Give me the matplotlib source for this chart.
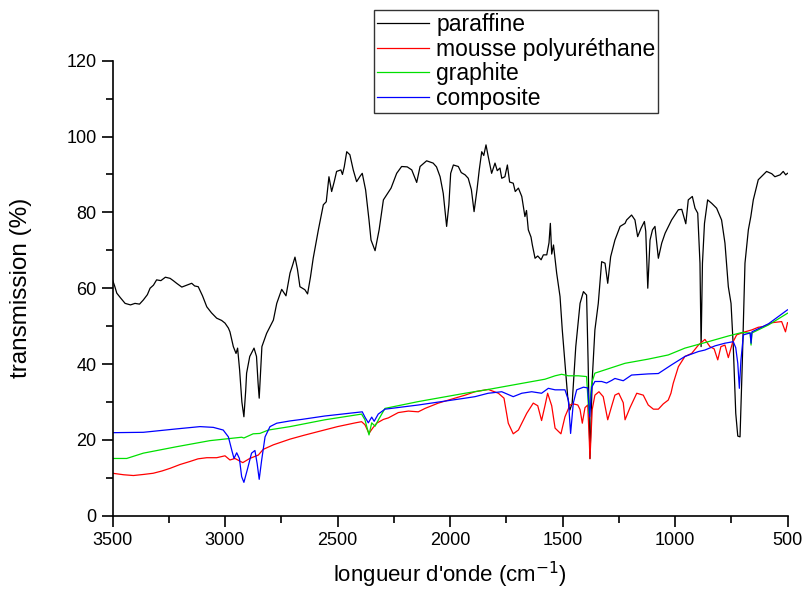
import matplotlib
matplotlib.use("Agg")
import matplotlib.pyplot as plt
from matplotlib.ticker import MultipleLocator

plt.rcParams['font.family'] = ['Liberation Sans', 'DejaVu Sans']

paraffine_wn = [3500, 3490, 3481, 3465, 3444, 3420, 3400, 3380, 3363, 3345, 3333, 3318, 3304, 3285,
                3265, 3244, 3230, 3215, 3192, 3170, 3148, 3135, 3119, 3100, 3081, 3060, 3037, 3015,
                3000, 2985, 2978, 2963, 2951, 2944, 2935, 2925, 2916, 2908, 2904, 2890, 2871, 2860,
                2853, 2848, 2842, 2836, 2815, 2785, 2770, 2748, 2729, 2711, 2700, 2689, 2678, 2667,
                2645, 2633, 2620, 2608, 2585, 2563, 2550, 2538, 2526, 2515, 2504, 2485, 2478, 2470,
                2459, 2445, 2430, 2415, 2400, 2390, 2375, 2360, 2351, 2333, 2315, 2296, 2262, 2237,
                2215, 2190, 2170, 2148, 2133, 2104, 2075, 2060, 2044, 2030, 2015, 2005, 1997, 1985,
                1963, 1950, 1933, 1919, 1905, 1893, 1880, 1870, 1859, 1850, 1840, 1830, 1815, 1800,
                1790, 1778, 1770, 1756, 1745, 1735, 1719, 1710, 1696, 1681, 1667, 1660, 1652, 1640,
                1634, 1622, 1610, 1595, 1585, 1570, 1560, 1554, 1548, 1540, 1526, 1511, 1501, 1489,
                1477, 1467, 1457, 1441, 1422, 1407, 1393, 1386, 1378, 1368, 1356, 1341, 1326, 1311,
                1299, 1286, 1267, 1244, 1222, 1215, 1193, 1178, 1166, 1151, 1136, 1130, 1121, 1111,
                1100, 1089, 1074, 1059, 1044, 1015, 985, 970, 952, 941, 923, 911, 899, 889, 884, 878,
                869, 855, 837, 815, 793, 778, 763, 751, 741, 730, 721, 711, 701, 689, 674, 663, 652,
                630, 593, 570, 556, 533, 519, 508, 500]
paraffine_t = [62.2, 60.5, 58.7, 57.5, 56.0, 55.6, 56.0, 55.8, 56.9, 58.3, 60.0, 60.8, 62.2, 62.0,
               62.9, 62.6, 62.0, 61.3, 60.3, 60.8, 61.3, 60.6, 60.4, 58.0, 55.1, 53.5, 52.1, 51.5,
               50.8, 49.5, 48.5, 44.6, 42.8, 44.2, 38.4, 30.0, 26.1, 33.0, 37.6, 42.0, 44.2, 42.0,
               35.0, 31.0, 38.0, 44.6, 48.1, 51.6, 56.0, 59.7, 58.0, 64.0, 66.0, 68.2, 65.0, 60.4,
               59.6, 58.5, 63.0, 67.9, 75.4, 82.0, 82.8, 89.4, 85.5, 88.0, 90.8, 91.2, 90.0, 92.0,
               96.0, 95.2, 91.2, 88.1, 89.5, 90.3, 85.9, 78.0, 72.7, 69.9, 75.4, 83.3, 86.4, 90.3,
               92.1, 92.0, 91.2, 87.9, 92.1, 93.6, 93.0, 92.0, 89.4, 85.0, 76.3, 82.0, 90.3, 92.5,
               92.1, 90.5, 89.9, 89.0, 86.0, 80.2, 86.0, 91.2, 96.0, 95.0, 97.8, 94.7, 90.3, 93.0,
               91.0, 91.7, 89.0, 89.4, 92.5, 88.0, 87.7, 85.5, 86.4, 84.2, 78.9, 80.5, 75.4, 73.5,
               71.4, 67.9, 68.5, 67.5, 68.8, 68.8, 72.0, 77.1, 69.0, 71.4, 64.0, 57.8, 49.0, 40.2,
               31.4, 27.9, 29.7, 44.6, 56.0, 59.1, 58.2, 40.2, 15.1, 35.8, 49.0, 56.0, 67.0, 66.6,
               61.3, 68.3, 72.7, 76.3, 77.1, 78.0, 79.3, 78.0, 73.6, 75.8, 77.6, 75.0, 60.0, 72.7,
               75.4, 76.3, 67.9, 71.9, 74.5, 78.0, 80.7, 80.8, 77.0, 83.3, 84.2, 81.1, 79.8, 66.6, 44.6, 66.6,
               77.1, 83.3, 82.4, 81.1, 78.0, 71.9, 60.4, 56.0, 44.6, 27.0, 21.0, 20.8, 40.2, 66.6, 75.4, 78.9, 83.3,
               88.6, 90.8, 90.2, 89.4, 89.9, 90.8, 89.9, 90.3]

mousse_wn = [3500, 3450, 3407, 3360, 3319, 3280, 3244, 3200, 3156, 3120, 3081, 3037, 3000, 2978,
             2956, 2940, 2921, 2890, 2852, 2830, 2785, 2711, 2650, 2585, 2500, 2420, 2393, 2378,
             2360, 2345, 2326, 2296, 2274, 2230, 2185, 2141, 2111, 2052, 1933, 1889, 1830, 1785,
             1760, 1741, 1719, 1696, 1659, 1630, 1610, 1593, 1578, 1566, 1548, 1533, 1507, 1489,
             1467, 1452, 1432, 1422, 1412, 1400, 1388, 1381, 1378, 1368, 1356, 1338, 1319, 1299,
             1281, 1267, 1250, 1230, 1222, 1200, 1170, 1141, 1119, 1096, 1074, 1052, 1030, 1018,
             1008, 985, 956, 926, 896, 867, 845, 826, 810, 796, 778, 763, 745, 726, 689, 659, 630,
             607, 570, 526, 509, 500]
mousse_t = [11.2, 10.8, 10.6, 10.9, 11.2, 11.8, 12.5, 13.5, 14.3, 15.0, 15.3, 15.3, 15.8, 14.7,
            15.1, 14.6, 14.0, 15.1, 16.0, 17.5, 18.7, 20.2, 21.2, 22.2, 23.5, 24.5, 24.8, 24.0,
            21.7, 23.0, 24.4, 25.4, 25.8, 27.2, 27.6, 27.4, 28.3, 29.7, 31.8, 32.7, 33.3, 32.3,
            31.0, 24.4, 21.6, 22.6, 27.0, 29.7, 29.0, 25.1, 29.0, 32.3, 29.0, 23.1, 21.6, 26.1,
            29.2, 29.5, 29.2, 28.0, 24.4, 28.5, 29.2, 20.0, 15.0, 28.0, 31.8, 32.7, 31.4, 25.3,
            29.0, 31.8, 32.3, 29.8, 25.3, 28.5, 32.3, 31.8, 29.2, 28.1, 28.1, 29.5, 30.5, 32.3,
            34.9, 39.3, 42.0, 42.8, 45.0, 46.5, 44.6, 44.0, 41.1, 44.6, 45.0, 41.7, 45.5, 47.7, 48.5, 49.0, 49.7,
            49.9, 50.9, 51.2, 48.5, 50.9]

graphite_wn = [3500, 3437, 3363, 3215, 3067, 2926, 2916, 2875, 2845, 2807, 2711, 2556, 2393, 2378,
               2360, 2348, 2333, 2318, 2289, 2141, 1933, 1830, 1681, 1578, 1533, 1504, 1474, 1430,
               1393, 1383, 1370, 1356, 1222, 1119, 1030, 956, 852, 763, 704, 666, 662, 658, 585, 500]
graphite_t = [15.1, 15.1, 16.5, 18.2, 19.8, 20.7, 20.5, 21.6, 21.7, 22.6, 23.5, 25.3, 26.8, 25.3,
              21.3, 24.5, 23.6, 25.3, 28.3, 30.1, 32.3, 33.3, 34.9, 36.0, 36.9, 37.3, 36.9, 36.9,
              36.7, 27.0, 35.0, 37.6, 40.2, 41.3, 42.4, 44.2, 45.9, 47.4, 48.3, 48.2, 45.0, 48.2, 50.3, 53.4]

composite_wn = [3500, 3363, 3215, 3111, 3052, 3008, 2985, 2970, 2960, 2948, 2936, 2926, 2916, 2901,
                2882, 2867, 2857, 2848, 2837, 2822, 2800, 2770, 2711, 2659, 2556, 2390, 2378, 2363,
                2348, 2337, 2319, 2289, 2141, 1933, 1889, 1830, 1770, 1719, 1681, 1637, 1593, 1563,
                1533, 1489, 1474, 1464, 1452, 1437, 1407, 1388, 1379, 1370, 1356, 1326, 1304, 1281,
                1267, 1230, 1193, 1119, 1074, 1015, 956, 896, 867, 822, 778, 741, 730, 721, 714, 707,
                696, 666, 662, 658, 585, 500]
composite_t = [21.9, 22.0, 22.9, 23.5, 23.3, 22.6, 20.8, 17.3, 15.1, 16.6, 15.1, 10.3, 8.8, 12.1,
               16.5, 17.2, 13.7, 9.6, 14.7, 20.8, 23.5, 24.4, 25.0, 25.4, 26.3, 27.4, 26.0, 24.5,
               26.0, 24.9, 26.8, 28.1, 29.2, 31.0, 31.4, 32.3, 32.7, 31.4, 32.3, 32.7, 32.3, 33.6,
               33.2, 33.2, 30.5, 21.7, 29.7, 33.2, 33.9, 33.7, 26.1, 33.9, 35.4, 35.4, 35.0, 35.7,
               36.2, 35.6, 37.1, 37.4, 37.5, 39.8, 42.0, 43.3, 43.7, 44.8, 45.5, 45.9, 44.3, 40.2, 33.6, 41.0,
               47.7, 48.2, 45.5, 48.5, 50.6, 54.3]

labels = ['paraffine', 'mousse polyuréthane', 'graphite', 'composite']
colors = ['#000000', '#FF0000', '#00E000', '#0000FF']

fig = plt.figure(figsize=(8.03, 5.9), dpi=100)
ax = fig.add_axes([0.1401, 0.1259, 0.8406, 0.7712])

series = [(paraffine_wn, paraffine_t), (mousse_wn, mousse_t),
          (graphite_wn, graphite_t), (composite_wn, composite_t)]
for (wn, t), lab, col in zip(series, labels, colors):
    ax.plot(wn, t, color=col, lw=0.9, label=lab)

ax.set_xlim(3500, 500)
ax.set_ylim(0, 120)
ax.xaxis.set_major_locator(MultipleLocator(500))
ax.xaxis.set_minor_locator(MultipleLocator(250))
ax.yaxis.set_major_locator(MultipleLocator(20))
ax.yaxis.set_minor_locator(MultipleLocator(10))
ax.tick_params(which='major', direction='out', length=8, width=1.2, labelsize=13)
ax.tick_params(which='minor', direction='out', length=5, width=1.2)
for s in ['top', 'right']:
    ax.spines[s].set_visible(False)
for s in ['left', 'bottom']:
    ax.spines[s].set_linewidth(1.2)

ax.set_xlabel("longueur d'onde (cm$^{-1}$)", fontsize=16, labelpad=8)
ax.set_ylabel("transmission (%)", fontsize=17.5, labelpad=25)

leg = ax.legend(loc='upper left', bbox_to_anchor=(0.4658, 0.983), bbox_transform=fig.transFigure,
                borderaxespad=0, fontsize=16.5, frameon=True, fancybox=False, handlelength=2.3,
                handletextpad=0.3, labelspacing=0.08, borderpad=0.12)
leg.get_frame().set_edgecolor('black')
leg.get_frame().set_linewidth(1.0)

fig.savefig('out.png', dpi=100)
